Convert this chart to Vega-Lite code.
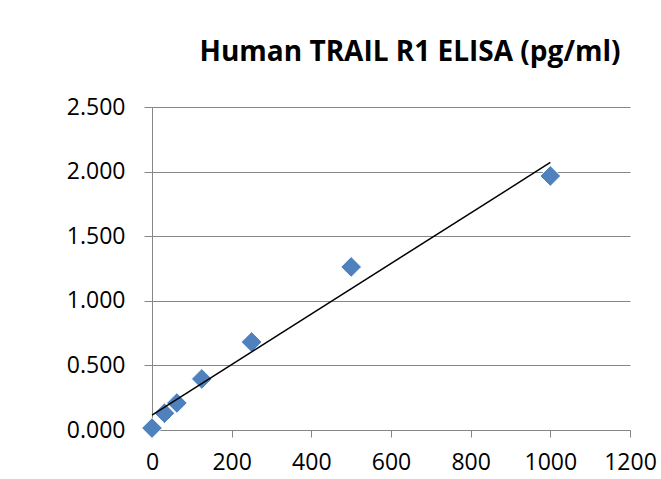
{
  "$schema": "https://vega.github.io/schema/vega-lite/v6.json",
  "width": 478,
  "height": 323,
  "autosize": "none",
  "padding": {"left": 152, "top": 107, "right": 31, "bottom": 49},
  "background": "white",
  "title": {
    "text": "Human TRAIL R1 ELISA (pg/ml)",
    "font": "Open Sans",
    "fontSize": 28,
    "fontWeight": "bold",
    "color": "black",
    "anchor": "middle",
    "dx": 19,
    "offset": 29
  },
  "config": {
    "view": {"stroke": null},
    "axis": {
      "labelFont": "Open Sans",
      "labelFontSize": 23,
      "labelColor": "black",
      "domainColor": "#868686",
      "tickColor": "#868686",
      "gridColor": "#868686",
      "gridOpacity": 1,
      "labelFlush": false,
      "labelOverlap": false,
      "title": null
    }
  },
  "data": {
    "values": [
      {"conc": 0, "od": 0.015},
      {"conc": 31.25, "od": 0.13},
      {"conc": 62.5, "od": 0.209},
      {"conc": 125, "od": 0.395},
      {"conc": 250, "od": 0.681},
      {"conc": 500, "od": 1.262},
      {"conc": 1000, "od": 1.966}
    ]
  },
  "encoding": {
    "x": {
      "field": "conc",
      "type": "quantitative",
      "scale": {"domain": [0, 1200], "nice": false, "zero": true},
      "axis": {"values": [0, 200, 400, 600, 800, 1000, 1200], "grid": false, "tickSize": 7, "labelPadding": 14, "format": "d"}
    },
    "y": {
      "field": "od",
      "type": "quantitative",
      "scale": {"domain": [0, 2.5], "nice": false},
      "axis": {"values": [0, 0.5, 1, 1.5, 2, 2.5], "format": ".3f", "tickSize": 8, "labelPadding": 19, "grid": true}
    }
  },
  "layer": [
    {
      "mark": {"type": "point", "shape": "diamond", "filled": true, "size": 430, "color": "#4F81BD", "opacity": 1, "stroke": "white", "strokeWidth": 1, "clip": false}
    },
    {
      "transform": [{"regression": "od", "on": "conc", "extent": [0, 1000]}],
      "mark": {"type": "line", "color": "black", "strokeWidth": 1.5}
    }
  ]
}
